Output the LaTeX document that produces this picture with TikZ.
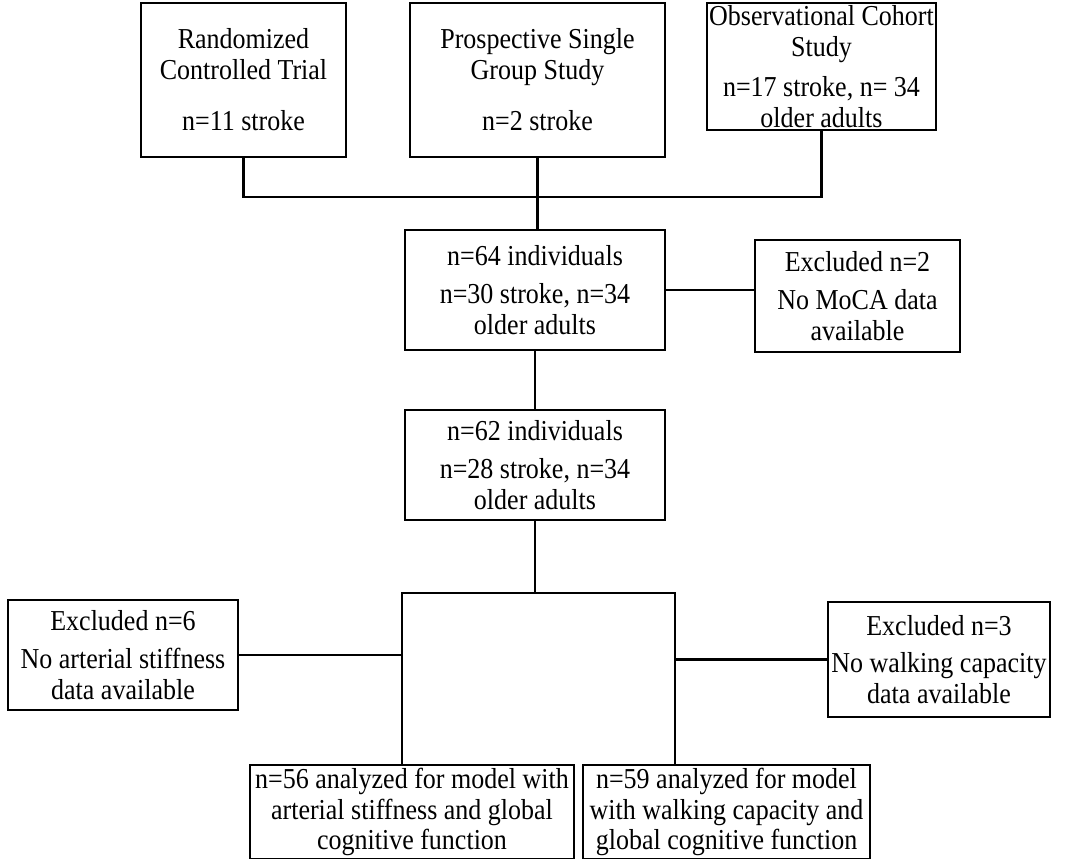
\documentclass[tikz,border=0pt]{standalone}
\usepackage{fontspec}
\setmainfont{Liberation Serif}[FakeStretch=0.9]
\begin{document}
\begin{tikzpicture}[x=1bp, y=-1bp,
    box/.style={draw, line width=2.2bp, align=center, inner sep=0pt,
      font=\fontsize{29}{31}\selectfont},
    lnk/.style={line width=2.2bp}]
  \useasboundingbox (0,0) rectangle (1070,859);
  \node[box, minimum width=205bp, minimum height=154bp] (rct) at (243.5,80)
    {Randomized\\Controlled Trial\\[20bp]n=11 stroke};
  \node[box, minimum width=255bp, minimum height=154bp] (psg) at (537.5,80)
    {Prospective Single\\Group Study\\[20bp]n=2 stroke};
  \node[box, minimum width=229bp, minimum height=127bp] (occ) at (821.5,66.5)
    {Observational Cohort\\Study\\[9bp]n=17 stroke, n= 34\\older adults};
  \node[box, minimum width=260bp, minimum height=120bp] (n64) at (535,290)
    {n=64 individuals\\[7bp]n=30 stroke, n=34\\older adults};
  \node[box, minimum width=205bp, minimum height=112bp] (ex2) at (857.5,296)
    {Excluded n=2\\[7bp]No MoCA data\\available};
  \node[box, minimum width=260bp, minimum height=110bp] (n62) at (535,465)
    {n=62 individuals\\[7bp]n=28 stroke, n=34\\older adults};
  \node[box, minimum width=230bp, minimum height=110bp] (ex6) at (123,655)
    {Excluded n=6\\[7bp]No arterial stiffness\\data available};
  \node[box, minimum width=222bp, minimum height=115bp] (ex3) at (939,659.5)
    {Excluded n=3\\[7bp]No walking capacity\\data available};
  \node[box, minimum width=324bp, minimum height=94bp] (res56) at (412,812)
    {n=56 analyzed for model with\\arterial stiffness and global\\cognitive function};
  \node[box, minimum width=287bp, minimum height=94bp] (res59) at (726.5,812)
    {n=59 analyzed for model\\with walking capacity and\\global cognitive function};
  \coordinate (join) at (537,197);
  \coordinate (fl) at (402,593);
  \coordinate (fr) at (675,593);
  \draw[lnk] (rct.south) -- (rct.south |- join) -- (occ.south |- join) -- (occ.south);
  \draw[lnk] (psg.south) -- (psg.south |- n64.north);
  \draw[lnk] (n64.east) -- (n64.east -| ex2.west);
  \draw[lnk] (n64) -- (n62);
  \draw[lnk] (n62.south) -- (n62.south |- fl);
  \draw[lnk] (res56.north -| fl) -- (fl) -- (fr) -- (res59.north -| fr);
  \draw[lnk] (ex6.east) -- (ex6.east -| fl);
  \draw[lnk] (ex3.west) -- (ex3.west -| fr);
\end{tikzpicture}
\end{document}
